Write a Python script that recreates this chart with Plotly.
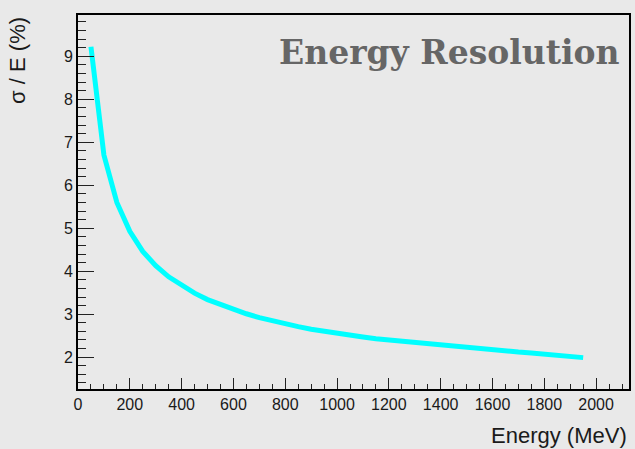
import plotly.graph_objects as go

energy = [50, 100, 150, 200, 250, 300, 350, 400, 450, 500, 550, 600, 650, 700,
          750, 800, 850, 900, 950, 1000, 1050, 1100, 1150, 1200, 1250, 1300,
          1350, 1400, 1450, 1500, 1550, 1600, 1650, 1700, 1750, 1800, 1850,
          1900, 1950]
resolution = [9.22, 6.70, 5.60, 4.93, 4.46, 4.13, 3.87, 3.67, 3.49, 3.34, 3.22,
              3.11, 3.01, 2.92, 2.84, 2.77, 2.71, 2.65, 2.60, 2.55, 2.51, 2.47,
              2.43, 2.40, 2.37, 2.34, 2.31, 2.28, 2.25, 2.22, 2.20, 2.17, 2.15,
              2.12, 2.10, 2.07, 2.05, 2.02, 1.99]

title_text = "Energy Resolution"
x_title = "Energy (MeV)"
y_title = "σ / E (%)"

bg = "#e9e9e9"
fig = go.Figure()
fig.add_trace(go.Scatter(x=energy, y=resolution, mode="lines",
                         line=dict(color="#00ffff", width=5),
                         showlegend=False, hoverinfo="skip"))

axis_common = dict(showgrid=False, zeroline=False, showline=True,
                   linecolor="black", linewidth=2, mirror=True,
                   ticks="inside", tickcolor="#222222", tickwidth=1,
                   tickfont=dict(family="Liberation Sans, Arial", size=16, color="#1a1a1a"))

fig.update_layout(
    width=635, height=449,
    margin=dict(l=78, r=4, t=15, b=60),
    paper_bgcolor=bg, plot_bgcolor=bg,
    xaxis=dict(range=[0, 2127], tick0=0, dtick=200, ticklen=11,
               minor=dict(ticks="inside", dtick=50, ticklen=5, tickcolor="#222222"),
               **axis_common),
    yaxis=dict(range=[1.26, 9.96], tick0=0, dtick=1, ticklen=16,
               minor=dict(ticks="inside", dtick=0.2, ticklen=8, tickcolor="#222222"),
               **axis_common),
    annotations=[
        dict(text=title_text, xref="paper", yref="paper", x=0.988, y=0.9,
             xanchor="right", yanchor="middle", showarrow=False,
             font=dict(family="DejaVu Serif", size=33, color="#666666", weight="bold")),
        dict(text=x_title, xref="paper", yref="paper", x=1.0, y=-0.125,
             xanchor="right", yanchor="middle", showarrow=False,
             font=dict(family="Liberation Sans, Arial", size=22, color="#1a1a1a")),
        dict(text=y_title, xref="paper", yref="paper", x=-0.11, y=1.0,
             xanchor="center", yanchor="top", textangle=-90, showarrow=False,
             font=dict(family="Liberation Sans, Arial", size=22, color="#1a1a1a")),
    ],
)

fig.write_html("out.html")
